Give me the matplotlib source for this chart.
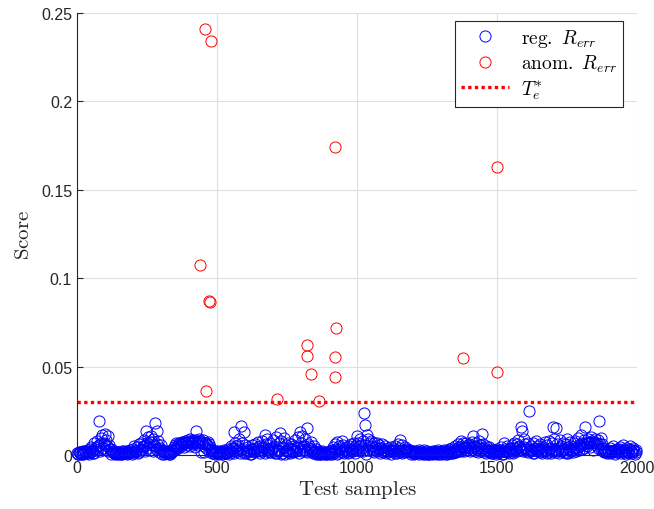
import numpy as np
import matplotlib
matplotlib.use("Agg")
import matplotlib.pyplot as plt

# regular test samples (score x 1e-3), one value every 5 samples
reg_step = 5
reg_vals = [
    1.2, 0.8, 1.5, 0.6, 2.0, 1.1, 2.4, 1.3, 3.0, 1.8, 4.5, 2.5, 6.5, 3.5, 8.0, 5.0, 19.4, 9.5, 11.5, 7.0,
    12.0, 8.5, 11.0, 5.5, 3.5, 2.0, 1.5, 2.2, 1.0, 1.8, 0.8, 1.4, 2.0, 0.9, 1.6, 1.1, 2.3, 1.0, 3.0, 1.5,
    3.5, 5.0, 2.5, 4.5, 6.0, 3.0, 7.0, 5.0, 8.5, 13.5, 6.5, 10.0, 7.5, 11.0, 9.0, 5.5, 18.0, 13.5, 8.0, 4.0,
    5.5, 3.0, 2.0, 1.2, 2.5, 1.0, 2.0, 1.5, 3.0, 4.5, 5.5, 6.5, 5.0, 7.0, 6.0, 7.5, 6.5, 8.0, 7.0, 8.5,
    7.5, 9.0, 8.0, 6.5, 8.5, 13.7, 7.5, 9.0, 8.0, 7.0, 8.5, 1.5, 7.0, 5.5, 6.0, 4.5, 3.0, 2.0, 1.2, 2.5,
    1.5, 2.5, 1.0, 2.0, 1.8, 3.0, 2.2, 1.5, 3.5, 2.0, 5.0, 4.0, 13.0, 6.5, 3.0, 5.5, 9.0, 16.4, 7.0, 13.0,
    5.5, 3.0, 4.5, 2.0, 3.5, 5.5, 2.5, 6.0, 4.0, 7.5, 3.0, 5.0, 8.0, 4.5, 11.3, 6.0, 9.0, 3.5, 7.0, 4.0,
    8.5, 5.0, 10.0, 3.0, 6.5, 12.4, 8.0, 4.5, 9.5, 5.5, 3.0, 7.0, 4.0, 6.0, 2.5, 5.0, 8.5, 4.0, 10.0, 13.0,
    7.0, 11.0, 5.0, 9.0, 15.0, 6.0, 4.0, 7.5, 3.0, 5.0, 2.0, 3.5, 1.5, 2.5, 1.0, 2.0, 1.2, 1.8, 0.8, 1.5,
    1.0, 2.0, 3.0, 4.5, 6.0, 3.5, 7.5, 5.0, 4.0, 8.0, 5.5, 3.0, 4.5, 2.5, 5.0, 3.5, 6.0, 4.0, 7.0, 5.5,
    11.0, 7.0, 9.0, 5.5, 8.0, 23.8, 17.0, 11.5, 9.0, 6.5, 8.0, 5.0, 7.0, 4.5, 6.5, 3.5, 5.5, 4.0, 6.0, 3.0,
    5.0, 2.5, 4.0, 3.0, 4.5, 2.0, 3.5, 5.0, 3.0, 6.0, 4.0, 8.7, 5.5, 3.0, 4.5, 2.5, 3.5, 2.0, 3.0, 1.5,
    2.5, 1.2, 2.0, 1.0, 3.0, 1.5, 2.2, 1.0, 2.8, 1.4, 2.0, 0.8, 1.8, 1.2, 2.5, 1.0, 2.0, 1.5, 3.0, 1.2,
    2.5, 1.5, 3.0, 2.0, 2.5, 1.2, 3.5, 2.0, 4.0, 2.5, 5.0, 3.5, 6.0, 4.5, 8.0, 5.0, 6.5, 4.0, 7.0, 5.5,
    6.0, 4.0, 7.5, 10.6, 5.0, 6.5, 4.0, 8.0, 5.5, 11.9, 6.0, 4.0, 5.0, 3.0, 4.5, 2.5, 3.5, 2.0, 3.0, 1.5,
    3.5, 2.0, 3.0, 4.5, 2.5, 6.5, 3.5, 5.0, 2.5, 4.0, 3.0, 5.5, 7.0, 4.0, 6.0, 8.5, 5.0, 15.7, 13.8, 9.0,
    6.0, 4.0, 7.0, 24.7, 5.0, 3.0, 6.5, 4.0, 8.0, 5.0, 3.5, 6.0, 2.5, 4.5, 7.5, 3.0, 5.5, 8.0, 4.0, 6.5,
    15.7, 9.0, 15.5, 6.0, 4.0, 8.5, 5.0, 7.0, 3.5, 6.0, 9.0, 4.5, 7.5, 5.0, 3.0, 6.5, 8.0, 4.5, 9.5, 6.0,
    11.3, 7.0, 8.5, 15.7, 6.5, 9.0, 7.5, 10.0, 8.0, 6.5, 9.0, 7.0, 8.5, 19.4, 9.5, 6.0, 4.0, 2.5, 1.5, 3.0,
    2.0, 4.0, 2.5, 5.0, 3.0, 1.5, 3.5, 2.0, 4.5, 2.5, 5.5, 3.0, 4.0, 1.8, 3.5, 5.0, 2.5, 4.0, 2.0, 3.0,
]
# low dense band of regular samples (score x 1e-3), every 10 samples from 2
base_step = 10
base_vals = [
    0.5, 1.0, 0.3, 1.5, 0.8, 2.0, 1.2, 3.0, 2.5, 4.0,
    3.0, 2.0, 0.8, 1.2, 0.5, 1.0, 0.6, 1.3, 0.9, 1.5,
    1.0, 2.0, 1.5, 3.0, 2.5, 4.0, 3.0, 2.0, 3.5, 1.5,
    0.8, 0.5, 1.0, 0.6, 2.0, 3.5, 4.0, 5.0, 4.5, 5.5,
    5.0, 6.0, 4.5, 5.5, 1.7, 5.0, 4.0, 2.0, 1.0, 0.6,
    0.5, 1.0, 0.7, 1.2, 0.6, 1.5, 1.0, 2.0, 1.2, 2.5,
    1.0, 2.0, 0.8, 1.5, 2.5, 1.0, 2.0, 1.2, 3.0, 1.5,
    2.0, 1.0, 2.5, 1.2, 0.8, 2.0, 1.0, 1.5, 2.5, 1.0,
    2.0, 3.0, 1.5, 2.0, 1.0, 0.6, 0.4, 0.8, 0.5, 0.6,
    0.4, 0.8, 1.5, 1.0, 2.0, 1.2, 2.5, 1.5, 2.0, 1.0,
    3.0, 2.5, 2.0, 0.5, 3.0, 2.0, 1.5, 2.5, 1.2, 1.8,
    1.0, 1.5, 0.8, 2.0, 1.2, 1.8, 1.0, 2.0, 1.5, 0.8,
    0.6, 0.9, 0.5, 1.0, 0.7, 0.4, 0.8, 0.6, 1.0, 0.5,
    0.8, 1.0, 0.6, 1.2, 0.9, 1.5, 2.0, 2.5, 2.0, 3.0,
    2.5, 3.0, 2.0, 1.5, 2.5, 1.8, 1.2, 2.0, 1.0, 1.5,
    1.0, 1.5, 0.8, 2.0, 1.2, 1.5, 2.5, 2.0, 3.0, 2.5,
    2.0, 1.5, 2.5, 1.0, 2.0, 1.5, 1.0, 2.5, 1.8, 1.2,
    2.0, 1.5, 1.0, 2.5, 1.8, 1.2, 2.0, 1.5, 2.5, 3.0,
    3.5, 4.0, 5.0, 4.5, 3.0, 5.5, 4.0, 3.5, 1.5, 1.0,
    1.0, 1.5, 0.8, 2.0, 1.2, 1.5, 0.8, 1.2, 1.0, 0.8,
]
# second low band (score x 1e-3), every 10 samples from 7
base2_vals = [
    1.8, 0.6, 2.2, 0.9, 3.5, 1.4, 4.5, 5.5, 7.0, 6.0,
    5.0, 3.5, 1.5, 0.6, 1.8, 0.7, 2.0, 0.5, 1.6, 0.8,
    2.5, 1.2, 3.5, 4.5, 5.5, 6.0, 7.5, 5.0, 6.0, 3.0,
    2.0, 1.5, 0.5, 1.4, 3.0, 5.0, 6.5, 7.0, 6.5, 7.5,
    7.0, 7.5, 6.5, 8.0, 7.0, 6.5, 7.5, 3.5, 2.0, 1.5,
    1.2, 0.6, 1.8, 0.9, 2.5, 3.5, 5.0, 4.0, 3.0, 1.0,
    2.5, 0.8, 3.5, 2.0, 4.5, 2.5, 4.0, 3.0, 1.8, 3.5,
    1.0, 3.0, 0.8, 4.0, 2.5, 1.5, 3.5, 2.0, 4.5, 3.0,
    4.5, 2.0, 5.0, 3.5, 1.8, 1.2, 0.8, 1.2, 0.9, 1.0,
    1.2, 2.5, 0.7, 3.0, 1.5, 3.5, 1.0, 3.0, 2.5, 3.5,
    5.0, 4.0, 5.5, 3.0, 4.5, 3.5, 3.0, 4.0, 2.5, 3.0,
    2.0, 3.0, 2.0, 1.2, 3.0, 2.5, 1.5, 3.0, 2.2, 1.5,
    1.0, 1.5, 1.2, 0.6, 1.5, 1.0, 1.4, 1.1, 0.7, 1.3,
    1.5, 0.6, 2.0, 1.0, 1.5, 3.0, 3.5, 4.0, 4.5, 4.5,
    4.5, 5.0, 3.5, 4.5, 3.5, 3.0, 2.5, 1.2, 2.0, 0.8,
    2.0, 0.6, 2.5, 1.5, 3.5, 1.0, 3.5, 4.5, 3.5, 4.5,
    3.5, 3.0, 1.2, 3.5, 3.0, 2.5, 3.5, 1.2, 3.5, 2.5,
    3.5, 3.0, 2.5, 3.5, 1.0, 3.5, 3.0, 4.0, 3.5, 5.0,
    6.0, 6.5, 7.0, 6.5, 7.5, 7.0, 6.0, 2.5, 3.0, 2.0,
    2.5, 3.0, 1.5, 3.5, 2.5, 3.0, 1.5, 2.5, 3.0, 1.5,
]
# anomalous test samples
anom_x = [457, 477, 439, 472, 474, 460, 715, 921, 925, 820, 820, 921, 837, 921, 866, 1378, 1499, 1499]
anom_y = [0.241, 0.2343, 0.1075, 0.0873, 0.0866, 0.0362, 0.0317, 0.1744, 0.072, 0.0622,
          0.0558, 0.0552, 0.046, 0.044, 0.0307, 0.0549, 0.163, 0.047]
threshold = 0.0302

reg_x = np.arange(len(reg_vals)) * reg_step
base_x = np.arange(len(base_vals)) * base_step + 2
base2_x = np.arange(len(base2_vals)) * base_step + 7
all_x = np.concatenate([base_x, base2_x, reg_x])
all_y = np.concatenate([base_vals, base2_vals, reg_vals]) * 1e-3

plt.rcParams['mathtext.fontset'] = 'cm'
plt.rcParams['font.family'] = ['Liberation Sans', 'DejaVu Sans']

fig = plt.figure(figsize=(6.54, 5.10), dpi=100)
ax = fig.add_axes([0.1177, 0.1059, 0.8563, 0.8666])

ms = 8
ax.plot(all_x, all_y, 'o', mfc='none', mec='#0000ff', ms=ms, mew=0.7, clip_on=False,
        label=r'$\mathrm{reg.}\ R_{err}$')
ax.plot(anom_x, anom_y, 'o', mfc='none', mec='#ff0000', ms=ms, mew=0.7, label=r'$\mathrm{anom.}\ R_{err}$')
ax.axhline(threshold, color='#ff0000', lw=2.4, linestyle=(0, (1, 1)), dash_capstyle='butt', label=r'$T_e^{*}$')

ax.set_xlim(0, 2000)
ax.set_ylim(0, 0.25)
ax.set_xticks([0, 500, 1000, 1500, 2000])
ax.set_yticks([0, 0.05, 0.1, 0.15, 0.2, 0.25])
ax.set_yticklabels(['0', '0.05', '0.1', '0.15', '0.2', '0.25'])
ax.grid(True, color='#dfdfdf', lw=0.8)
ax.set_axisbelow(True)
for s in ['top', 'right']:
    ax.spines[s].set_visible(False)
for s in ['left', 'bottom']:
    ax.spines[s].set_color('#262626')
    ax.spines[s].set_linewidth(0.8)
ax.tick_params(direction='in', length=4, width=0.8, colors='#262626', labelsize=11.5)

ax.set_xlabel(r'$\mathrm{Test\ samples}$', fontsize=15, color='#262626', labelpad=2)
ax.set_ylabel(r'$\mathrm{Score}$', fontsize=15, color='#262626', labelpad=6)

leg = ax.legend(loc='upper right', bbox_to_anchor=(0.975, 0.982), borderaxespad=0, fontsize=14,
                fancybox=False, edgecolor='#262626', framealpha=1, borderpad=0.3, labelspacing=0.2,
                handlelength=2.5, handletextpad=0.6)
leg.get_frame().set_linewidth(0.8)

fig.savefig('out.png', dpi=100)
